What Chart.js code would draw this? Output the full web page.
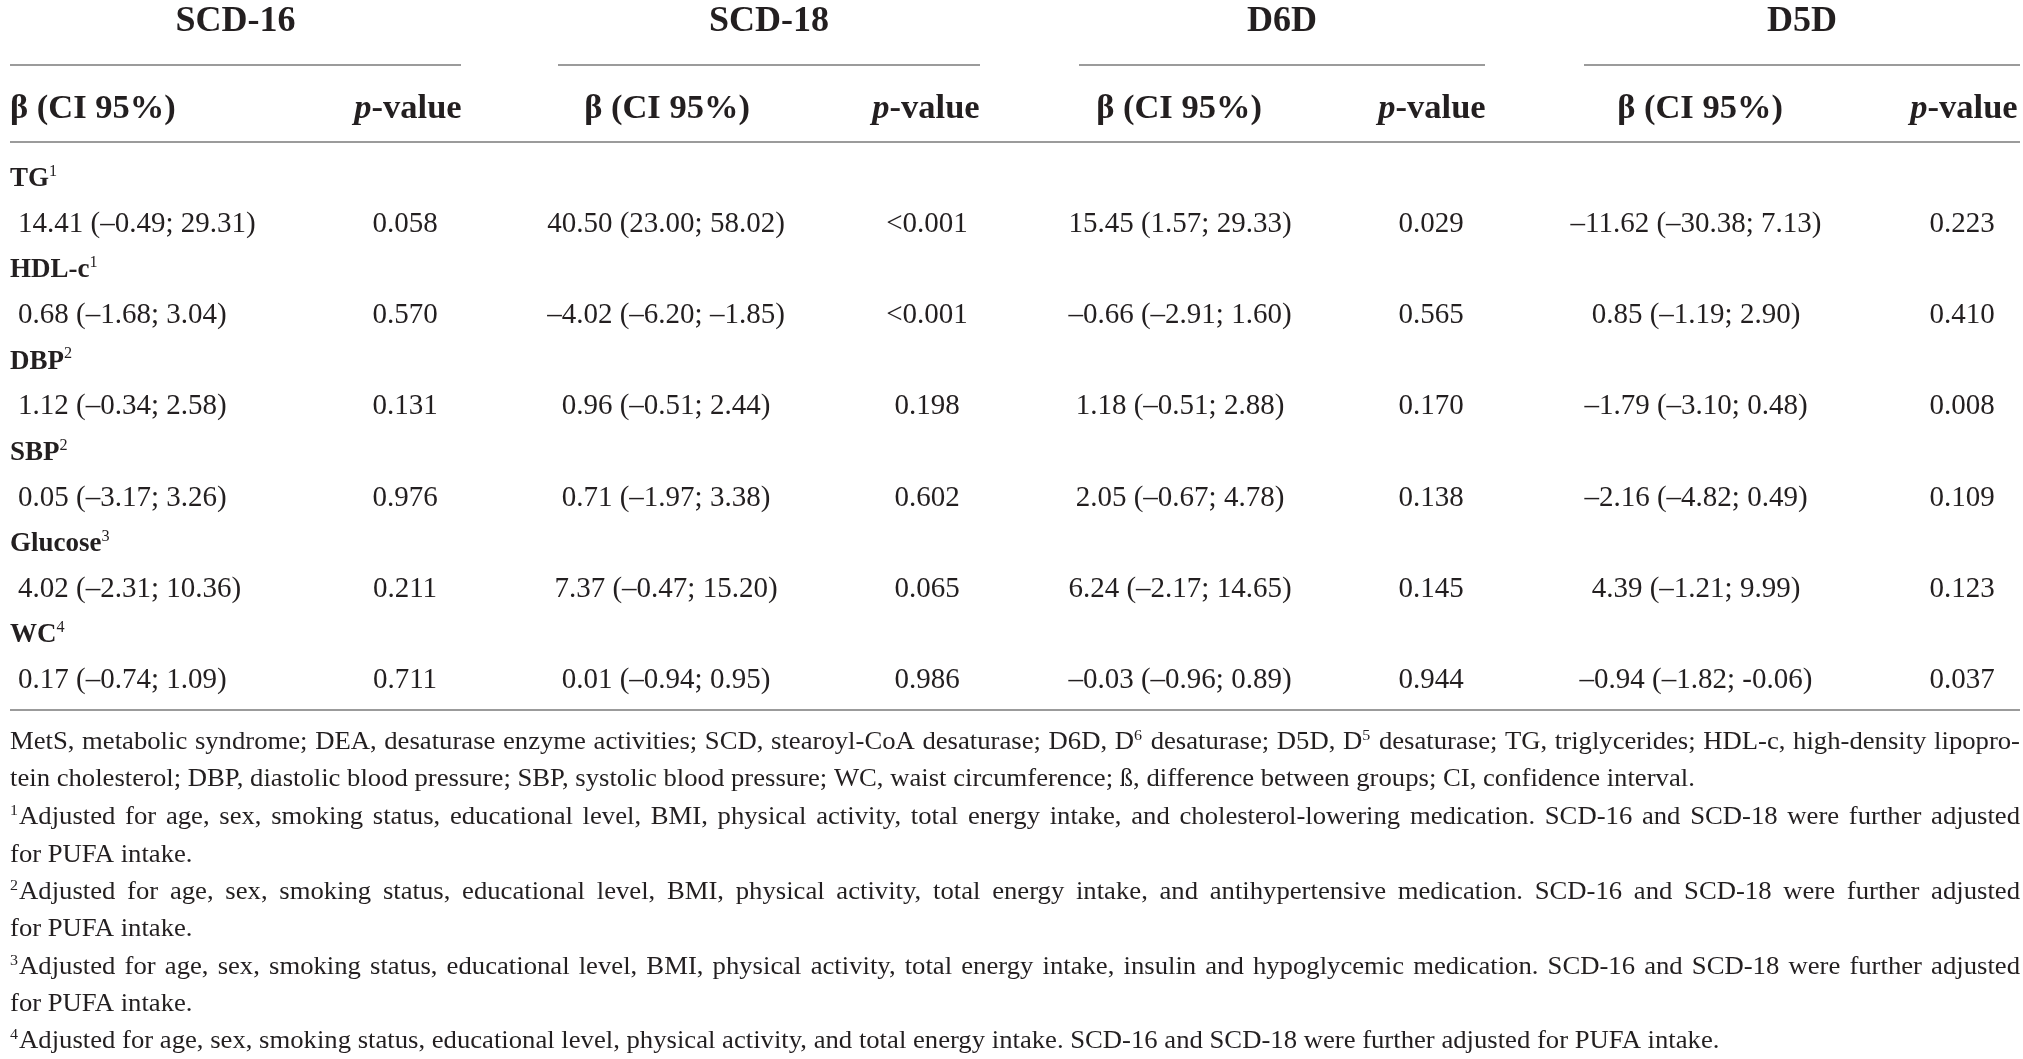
<!DOCTYPE html>
<html><head><meta charset="utf-8">
<script src="https://cdn.jsdelivr.net/npm/chart.js@4.4.1/dist/chart.umd.min.js"></script>
<style>html,body{margin:0;padding:0;background:#fff;overflow:hidden}canvas{display:block}</style>
</head><body>
<canvas id="c" width="2023" height="1059"></canvas>
<script>
// ---------- DATA ----------
const groups = ['SCD-16', 'SCD-18', 'D6D', 'D5D'];
const subHeaders = ['β (CI 95%)', '_p_-value'];
const outcomes = ['TG', 'HDL-c', 'DBP', 'SBP', 'Glucose', 'WC'];
const outcomeNotes = ['1', '1', '2', '2', '3', '4'];

const betaSCD16 = ['14.41 (–0.49; 29.31)', '0.68 (–1.68; 3.04)', '1.12 (–0.34; 2.58)', '0.05 (–3.17; 3.26)', '4.02 (–2.31; 10.36)', '0.17 (–0.74; 1.09)'];
const pSCD16 = ['0.058', '0.570', '0.131', '0.976', '0.211', '0.711'];
const betaSCD18 = ['40.50 (23.00; 58.02)', '–4.02 (–6.20; –1.85)', '0.96 (–0.51; 2.44)', '0.71 (–1.97; 3.38)', '7.37 (–0.47; 15.20)', '0.01 (–0.94; 0.95)'];
const pSCD18 = ['<0.001', '<0.001', '0.198', '0.602', '0.065', '0.986'];
const betaD6D = ['15.45 (1.57; 29.33)', '–0.66 (–2.91; 1.60)', '1.18 (–0.51; 2.88)', '2.05 (–0.67; 4.78)', '6.24 (–2.17; 14.65)', '–0.03 (–0.96; 0.89)'];
const pD6D = ['0.029', '0.565', '0.170', '0.138', '0.145', '0.944'];
const betaD5D = ['–11.62 (–30.38; 7.13)', '0.85 (–1.19; 2.90)', '–1.79 (–3.10; 0.48)', '–2.16 (–4.82; 0.49)', '4.39 (–1.21; 9.99)', '–0.94 (–1.82; -0.06)'];
const pD5D = ['0.223', '0.410', '0.008', '0.109', '0.123', '0.037'];

const footnoteLines = [
  'MetS, metabolic syndrome; DEA, desaturase enzyme activities; SCD, stearoyl-CoA desaturase; D6D, D^6 desaturase; D5D, D^5 desaturase; TG, triglycerides; HDL-c, high-density lipopro-',
  'tein cholesterol; DBP, diastolic blood pressure; SBP, systolic blood pressure; WC, waist circumference; ß, difference between groups; CI, confidence interval.',
  '^1Adjusted for age, sex, smoking status, educational level, BMI, physical activity, total energy intake, and cholesterol-lowering medication. SCD-16 and SCD-18 were further adjusted',
  'for PUFA intake.',
  '^2Adjusted for age, sex, smoking status, educational level, BMI, physical activity, total energy intake, and antihypertensive medication. SCD-16 and SCD-18 were further adjusted',
  'for PUFA intake.',
  '^3Adjusted for age, sex, smoking status, educational level, BMI, physical activity, total energy intake, insulin and hypoglycemic medication. SCD-16 and SCD-18 were further adjusted',
  'for PUFA intake.',
  '^4Adjusted for age, sex, smoking status, educational level, physical activity, and total energy intake. SCD-16 and SCD-18 were further adjusted for PUFA intake.'
];
const footnoteJustify = [true, false, true, false, true, false, true, false, false];

// ---------- LAYOUT ----------
const W = 2023, H = 1059;
const FONT = "'Liberation Serif', 'Times New Roman', serif";
const INK = '#231f20';
const RULE = '#9b9b9b';
const groupRules = [[10, 461], [558, 980], [1079, 1485], [1584, 2020]];
const fullRule = [10, 2020];
const betaX = [18, 666, 1180, 1696];
const betaAlign = ['left', 'center', 'center', 'center'];
const pX = [405, 927, 1431, 1962];
const subBetaX = [10, 667, 1179, 1700];
const subBetaAlign = ['left', 'center', 'center', 'center'];
const subPX = [408, 926, 1432, 1964];
const headY = 19, subY = 107, ruleY = [65, 142, 710];
const rowY0 = 177, rowStep = 91.3, dataOff = 45.3;
const labelX = 10;
const noteY = [741, 778, 816, 854, 891, 928, 966, 1003, 1040];
const STYLES = {
  head:  {size: 36,   bold: true,  stretch: 1},
  sub:   {size: 34.5, bold: true,  stretch: 1},
  label: {size: 27,   bold: true,  stretch: 1},
  cell:  {size: 29,   bold: false, stretch: 1},
  note:  {size: 25,   bold: false, stretch: 1.067}
};

// ---------- BUILD CELLS ----------
const betaCols = [betaSCD16, betaSCD18, betaD6D, betaD5D];
const pCols = [pSCD16, pSCD18, pD6D, pD5D];
const cells = [];
function add(x, y, text, style, align, x2) { cells.push({x, y, text, style, align, x2}); }

groups.forEach((g, i) => add((groupRules[i][0] + groupRules[i][1]) / 2, headY, g, 'head', 'center'));
groups.forEach((g, i) => {
  add(subBetaX[i], subY, subHeaders[0], 'sub', subBetaAlign[i]);
  add(subPX[i], subY, subHeaders[1], 'sub', 'center');
});
outcomes.forEach((o, r) => {
  const yl = rowY0 + r * rowStep;
  add(labelX, yl, o + '^' + outcomeNotes[r], 'label', 'left');
  betaCols.forEach((col, c) => add(betaX[c], yl + dataOff, col[r], 'cell', betaAlign[c]));
  pCols.forEach((col, c) => add(pX[c], yl + dataOff, col[r], 'cell', 'center'));
});
footnoteLines.forEach((t, i) => add(fullRule[0], noteY[i], t, 'note', footnoteJustify[i] ? 'justify' : 'left', fullRule[1]));

// rules as line datasets
const ruleSets = [];
groupRules.forEach(([a, b]) => ruleSets.push([{x: a, y: ruleY[0]}, {x: b, y: ruleY[0]}]));
ruleSets.push([{x: fullRule[0], y: ruleY[1]}, {x: fullRule[1], y: ruleY[1]}]);
ruleSets.push([{x: fullRule[0], y: ruleY[2]}, {x: fullRule[1], y: ruleY[2]}]);

// ---------- RICH TEXT ----------
function parseRich(str) {
  const segs = []; let cur = '', italic = false;
  const flush = () => { if (cur) { segs.push({t: cur, i: italic, sup: false}); cur = ''; } };
  for (let k = 0; k < str.length; k++) {
    const ch = str[k];
    if (ch === '_') { flush(); italic = !italic; }
    else if (ch === '^' && k + 1 < str.length) { flush(); segs.push({t: str[k + 1], i: italic, sup: true}); k++; }
    else cur += ch;
  }
  flush();
  return segs;
}
function segFont(seg, st) {
  const size = seg.sup ? st.size * 0.6 : st.size;
  const bold = st.bold && !seg.sup;
  return (seg.i ? 'italic ' : '') + (bold ? 'bold ' : '') + size + 'px ' + FONT;
}
function segsWidth(ctx, segs, st) {
  let w = 0;
  segs.forEach(s => { ctx.font = segFont(s, st); w += ctx.measureText(s.t).width + (s.sup ? 1 : 0); });
  return w;
}
function drawSegs(ctx, segs, st, x, base) {
  segs.forEach(s => {
    ctx.font = segFont(s, st);
    ctx.fillText(s.t, x, s.sup ? base - st.size * 0.38 : base);
    x += ctx.measureText(s.t).width + (s.sup ? 1 : 0);
  });
  return x;
}
function drawCell(ctx, x, y, c, x2px) {
  const st = STYLES[c.style];
  const k = st.stretch;
  const base = y + st.size * 0.33;
  ctx.fillStyle = INK;
  ctx.textAlign = 'left';
  ctx.textBaseline = 'alphabetic';
  ctx.save();
  if (c.align === 'justify') {
    const words = c.text.split(' ').map(parseRich);
    const ws = words.map(w => segsWidth(ctx, w, st));
    const total = ws.reduce((a, b) => a + b, 0);
    const target = (x2px - x) / k;
    ctx.font = segFont({}, st);
    const spW = ctx.measureText(' ').width;
    let gap = (target - total) / (words.length - 1);
    let sx = k;
    if (gap < spW * 0.6) { gap = spW * 0.6; sx = k * target / (total + gap * (words.length - 1)); }
    ctx.translate(x, 0); ctx.scale(sx, 1);
    let cx = 0;
    words.forEach((w, n) => { drawSegs(ctx, w, st, cx, base); cx += ws[n] + gap; });
  } else {
    const segs = parseRich(c.text);
    const w = segsWidth(ctx, segs, st) * k;
    let sx = x;
    if (c.align === 'center') sx = x - w / 2;
    else if (c.align === 'right') sx = x - w;
    ctx.translate(sx, 0); ctx.scale(k, 1);
    drawSegs(ctx, segs, st, 0, base);
  }
  ctx.restore();
}

const textPlugin = {
  id: 'cellText',
  afterDatasetsDraw(chart) {
    const ctx = chart.ctx;
    const ds = chart.data.datasets[0];
    const meta = chart.getDatasetMeta(0);
    const xs = chart.scales.x;
    ctx.save();
    meta.data.forEach((el, i) => {
      const c = ds.data[i];
      drawCell(ctx, el.x, el.y, c, c.x2 !== undefined ? xs.getPixelForValue(c.x2) : null);
    });
    ctx.restore();
  }
};

const datasets = [{
  label: 'cells', data: cells, pointRadius: 0, pointHoverRadius: 0, showLine: false
}].concat(ruleSets.map((d, i) => ({
  label: 'rule' + i, data: d, showLine: true, borderColor: RULE, borderWidth: 2,
  pointRadius: 0, pointHoverRadius: 0, fill: false
})));

new Chart(document.getElementById('c'), {
  type: 'scatter',
  data: {datasets},
  options: {
    responsive: false, animation: false, events: [],
    layout: {padding: 0},
    plugins: {legend: {display: false}, tooltip: {enabled: false}},
    scales: {
      x: {type: 'linear', min: 0, max: W, display: false},
      y: {type: 'linear', min: 0, max: H, reverse: true, display: false}
    },
    clip: false
  },
  plugins: [textPlugin]
});
</script>
</body></html>
